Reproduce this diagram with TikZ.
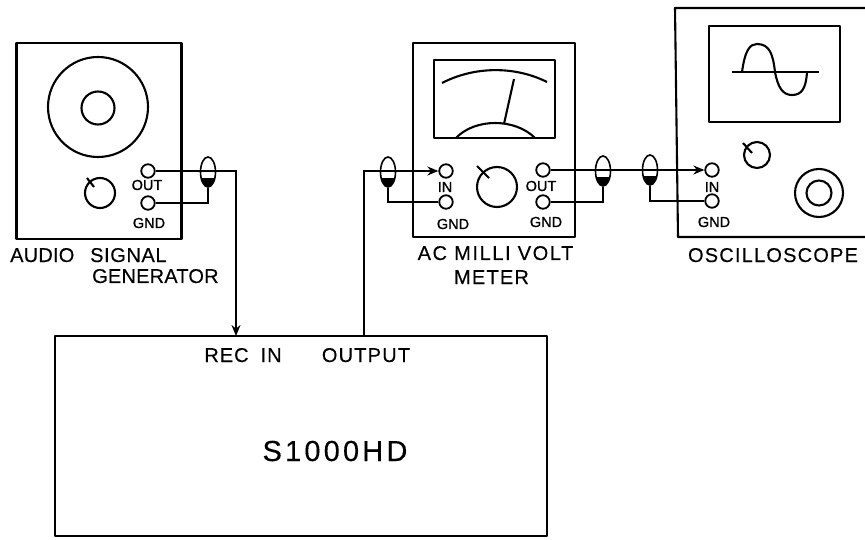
\documentclass[tikz,border=0pt]{standalone}
\usepackage{fontspec}
\setmainfont{Liberation Sans}
\newfontfamily\lbl{Liberation Sans}[FakeBold=0.3]
\newfontfamily\sml{Liberation Sans}[FakeBold=1]
\newcommand{\lsp}[1]{\addfontfeature{LetterSpace=#1}}
\usetikzlibrary{arrows.meta,shapes.geometric}
\tikzset{
  ln/.style={line width=2.1pt,line join=round},
  wire/.style={line width=1.6pt},
  term/.style={circle,draw,line width=1.8pt,minimum size=13.5pt,inner sep=0pt,fill=white},
  probe/.style={ellipse,draw,line width=1.6pt,minimum width=15pt,minimum height=30pt,inner sep=0pt},
  biglbl/.style={font=\lbl\fontsize{20}{20}\selectfont,inner sep=0pt},
  smalllbl/.style={font=\sml\fontsize{14.5}{15}\selectfont,inner sep=0pt},
  arr/.style={-{Stealth[length=11pt,width=9pt]}}
}
\newcommand{\probeat}[3]{%
  \node[probe] (#1) at (#2,#3) {};
  \begin{scope}
    \clip (#2-8,#3+7) rectangle (#2+8,#3+16);
    \fill (#2,#3) ellipse[x radius=7.5,y radius=15];
  \end{scope}}
\begin{document}
\begin{tikzpicture}[x=1pt,y=-1pt]
\useasboundingbox (0,0) rectangle (865,540);
\fill[white] (0,0) rectangle (865,540);
% audio signal generator
\node[draw,ln,minimum width=165pt,minimum height=196pt,inner sep=0pt] (gen) at (99,141) {};
\draw[ln] (98,107) circle[radius=50];
\draw[ln] (98,108) circle[radius=16.5];
\draw[ln] (100,193) circle[radius=15];
\draw[ln] (87,178) -- (94,187);
\node[term] (gout) at (148,171) {};
\node[term] (ggnd) at (148,203) {};
\node[smalllbl] (goutl) at (147,185) {OUT};
\node[smalllbl] (ggndl) at (149,223) {GND};
\node[biglbl,anchor=base west] (genl1) at (10,262) {\lsp{1}AUDIO};
\node[biglbl,anchor=base west] (genl1b) at (90,262) {\lsp{3}SIGNAL};
\node[biglbl,anchor=base west] (genl2) at (92,283) {\lsp{1}GENERATOR};
% ac millivolt meter
\node[draw,ln,minimum width=162pt,minimum height=194pt,inner sep=0pt] (mv) at (494,140) {};
\draw[ln] (434,60) rectangle (555,138);
\draw[ln] (442,83) .. controls (475,66) and (515,66) .. (547,82);
\draw[ln] (504,124) -- (514,79);
\draw[ln] (456,138) .. controls (475,118) and (515,118) .. (535,138);
\draw[ln] (497,187) circle[radius=20];
\draw[ln] (477,166) -- (489,178);
\node[term] (min) at (446,171) {};
\node[term] (mgnd1) at (446,202) {};
\node[term] (mout) at (543,170) {};
\node[term] (mgnd2) at (543,202) {};
\node[smalllbl] (minl) at (445,187) {IN};
\node[smalllbl] (mgl1) at (453,224) {GND};
\node[smalllbl] (moutl) at (541,186) {OUT};
\node[smalllbl] (mgl2) at (546,222) {GND};
\node[biglbl,anchor=base] (ml1) at (495.5,260) {\lsp{8}AC MILLI VOLT};
\node[biglbl,anchor=base] (ml2) at (491.5,284) {\lsp{6}METER};
% oscilloscope
\draw[ln] (866,8) -- (675,8) -- (678,237) -- (866,237);
\draw[ln] (709,26) rectangle (840,122);
\draw[wire] (732,72) -- (819,72);
\draw[ln] (742,72) .. controls (745,50) and (750,44) .. (757,44)
  .. controls (770,44) and (773,55) .. (775,72)
  .. controls (778,88) and (783,95) .. (792,95)
  .. controls (802,95) and (806,88) .. (807,72);
\draw[ln] (757,155) circle[radius=13];
\draw[ln] (743,143) -- (752,153);
\draw[ln] (819,193) circle[radius=24];
\draw[ln] (819,193) circle[radius=12.5];
\node[term] (sin) at (712,170) {};
\node[term] (sgnd) at (712,201) {};
\node[smalllbl] (sinl) at (712,187) {IN};
\node[smalllbl] (sgl) at (714,222) {GND};
\node[biglbl,anchor=base] (sl) at (773,262) {\lsp{6}OSCILLOSCOPE};
% S1000HD
\node[draw,ln,minimum width=492pt,minimum height=200pt,inner sep=0pt] (dut) at (301,436) {};
\node[biglbl,anchor=base] (rec) at (243,362) {\lsp{5}REC\hspace{12pt}IN};
\node[biglbl,anchor=base] (outp) at (366,362) {\lsp{6}OUTPUT};
\node[font=\lbl\fontsize{29}{30}\selectfont,inner sep=0pt,anchor=base] (name) at (335,461) {\lsp{11}S1000HD};
\coordinate (recin) at (236,336);
\coordinate (recout) at (364,336);
% probes and connectors
\probeat{p1}{208}{172}
\probeat{p2}{388}{172}
\probeat{p3}{603}{171}
\probeat{p4}{650}{170}
\draw[wire,arr] (gout.east) -| (recin);
\draw[wire] (p1.south) |- (ggnd.east);
\draw[wire,arr] (recout) |- (min.west);
\draw[wire] (p2.south) |- (mgnd1.west);
\draw[wire,arr] (mout.east) -- (sin.west);
\draw[wire] (p3.south) |- (mgnd2.east);
\draw[wire] (p4.south) |- (sgnd.west);
\end{tikzpicture}
\end{document}
